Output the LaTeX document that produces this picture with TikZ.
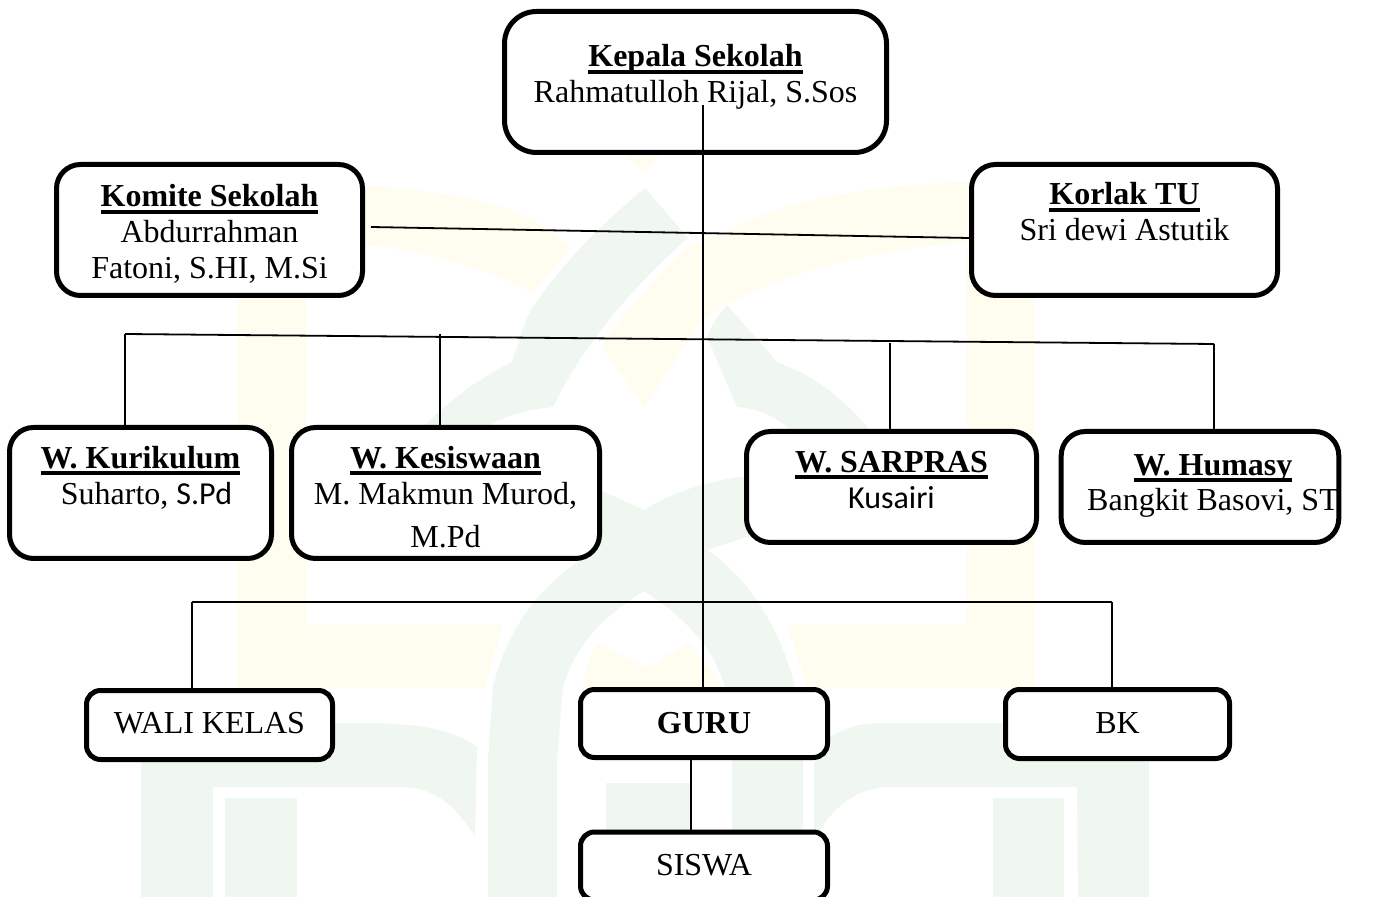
\documentclass[tikz,border=0pt]{standalone}
\usepackage{fontspec}
\setmainfont{Liberation Serif}
\newfontfamily\calfont{Carlito}
\newsavebox\ulbox
\newcommand\ulbf[1]{\sbox\ulbox{\textbf{#1}}\rlap{\rule[-3.3pt]{\wd\ulbox}{2pt}}\usebox\ulbox}
\newcommand\tst[1]{\rule{0pt}{#1pt}}
\newcommand\bst[1]{\rule[-#1pt]{0pt}{#1pt}}
\definecolor{wmgreen}{HTML}{EFF7F0}
\definecolor{wmyellow}{HTML}{FFFDF0}
\tikzset{
  box/.style={draw=black,fill=white,line width=2.5pt,outer sep=0pt,inner sep=0pt,
    rounded corners=12pt,align=center,font=\fontsize{16}{18}\selectfont},
  smallbox/.style={box,rounded corners=7pt},
  link/.style={draw=black,line width=0.9pt},
  wmg/.style={fill=wmgreen,draw=none},
  wmy/.style={fill=wmyellow,draw=none}
}
\begin{document}
\begin{tikzpicture}[x=0.5pt,y=-0.5pt]
\useasboundingbox (0,0) rectangle (1376,897);
% watermark
\fill[wmy] (237,298) -- (237,185) -- (363,185) .. controls (430,190) and (500,200) .. (540,223) -- (572,247) -- (533,293) .. controls (480,265) and (420,250) .. (363,245) -- (306,245) -- (306,625) -- (503,625) -- (484,688) -- (237,688) -- cycle;
\fill[wmy] (1035,298) -- (1035,185) -- (967,182) .. controls (900,183) and (790,195) .. (723,233) -- (687,247) .. controls (650,285) and (620,315) .. (602,347) -- (645,408) .. controls (665,375) and (685,345) .. (703,320) .. controls (760,280) and (860,250) .. (967,243) -- (967,625) -- (787,625) -- (808,688) -- (1035,688) -- cycle;
\fill[wmy] (625,155) -- (660,155) -- (645,173) -- cycle;
\fill[wmy] (583,688) .. controls (585,670) and (590,655) .. (598,643) -- (646,668) -- (688,643) .. controls (705,660) and (715,675) .. (723,688) -- cycle;
\fill[wmg] (645,188) -- (688,238) .. controls (640,280) and (585,340) .. (553,407) .. controls (525,410) and (500,417) .. (483,430) -- (420,430) .. controls (455,395) and (485,375) .. (512,362) -- (527,317) .. controls (555,270) and (600,225) .. (645,188) -- cycle;
\fill[wmg] (727,305) -- (778,363) .. controls (815,375) and (845,400) .. (870,430) -- (790,430) .. controls (775,415) and (755,408) .. (737,407) -- (707,337) .. controls (712,325) and (718,315) .. (727,305) -- cycle;
\fill[wmg] (644,510) .. controls (670,493) and (705,482) .. (740,477) -- (790,477) -- (790,540) -- (747,537) -- (707,550) .. controls (745,575) and (780,625) .. (795,687) -- (803,720) -- (803,900) -- (732,900) -- (732,760) -- (725,687) .. controls (710,640) and (680,615) .. (644,591) .. controls (605,615) and (575,645) .. (563,687) -- (557,760) -- (557,900) -- (488,900) -- (488,760) -- (493,687) .. controls (505,635) and (535,590) .. (583,558) -- (600,490) -- cycle;
\fill[wmg] (606,783) rectangle (690,900);
\fill[wmg] (141,900) -- (141,723) -- (360,723) .. controls (420,723) and (455,730) .. (477,747) -- (475,837) .. controls (455,805) and (435,787) .. (400,787) -- (213,787) -- (213,900) -- cycle;
\fill[wmg] (225,798) rectangle (297,900);
\fill[wmg] (1149,900) -- (1149,723) -- (880,723) .. controls (860,723) and (845,728) .. (830,737) -- (814,760) -- (814,830) -- (820,830) .. controls (835,805) and (860,787) .. (890,787) -- (1077,787) -- (1078,900) -- cycle;
\fill[wmg] (993,798) rectangle (1064,900);
% boxes
\node[box,rounded corners=16pt,minimum width=191pt,minimum height=70.5pt] (kepala) at (695.5,82)
  {\tst{12}\ulbf{Kepala Sekolah}\\Rahmatulloh Rijal, S.Sos\bst{9}};
\node[box,minimum width=153pt,minimum height=65.5pt] (komite) at (209.5,230)
  {\tst{19}\ulbf{Komite Sekolah}\\Abdurrahman\\Fatoni, S.HI, M.Si\bst{6}};
\node[box,minimum width=153pt,minimum height=65.5pt] (korlak) at (1124.5,230)
  {\tst{12}\ulbf{Korlak TU}\\Sri dewi Astutik\bst{19}};
\node[box,minimum width=131pt,minimum height=65.5pt] (kur) at (140.5,493)
  {\tst{12}\ulbf{W. Kurikulum}\\\hspace*{6pt}Suharto, {\calfont S.Pd}\bst{18.5}};
\node[box,minimum width=154pt,minimum height=65.5pt] (kes) at (445.5,493)
  {\tst{20}\ulbf{W. Kesiswaan}\\M. Makmun Murod,\\[3.5pt]M.Pd\bst{5}};
\node[box,minimum width=145pt,minimum height=55.5pt] (sar) at (891.5,487)
  {\tst{12}\ulbf{W. SARPRAS}\\{\calfont Kusairi}\bst{8.5}};
\node[box,minimum width=138.5pt,minimum height=55.5pt] (hum) at (1200,487)
  {\tst{12}\hspace*{13pt}\ulbf{W. Humasy}\\[-.5pt]\hspace*{13pt}Bangkit Basovi, ST\bst{6}};
\node[smallbox,minimum width=123pt,minimum height=34.5pt] (wali) at (209.5,725)
  {\tst{12}WALI KELAS\bst{3.5}};
\node[smallbox,minimum width=123.5pt,minimum height=34pt] (guru) at (704,723.5)
  {\tst{12}\textbf{GURU}\bst{2.5}};
\node[smallbox,minimum width=112pt,minimum height=34.5pt] (bk) at (1117.5,724)
  {\tst{12}BK\bst{3}};
\node[smallbox,minimum width=123.5pt,minimum height=34pt] (siswa) at (704,866)
  {\tst{12}SISWA\bst{3}};
% free ends
\coordinate (spine) at (703,105);
\coordinate (komEnd) at (371,227);
\coordinate (korEnd) at (969,238);
\coordinate (busAL) at (125,334);
\coordinate (busAR) at (1214,344);
\coordinate (kesTop) at (440,334);
\coordinate (sarTop) at (890,343);
\coordinate (busBL) at (192,602);
\coordinate (busBR) at (1112,602);
\coordinate (sisTop) at (691,760);
% connectors
\draw[link] (spine) -- (spine |- guru.north);
\draw[link] (komEnd) -- (korEnd);
\draw[link] (busAL) -- (busAR);
\draw[link] (busAL) -- (busAL |- kur.north);
\draw[link] (kesTop) -- (kesTop |- kes.north);
\draw[link] (sarTop) -- (sarTop |- sar.north);
\draw[link] (busAR) -- (busAR |- hum.north);
\draw[link] (busBL) -- (busBR);
\draw[link] (busBL) -- (busBL |- wali.north);
\draw[link] (busBR) -- (busBR |- bk.north);
\draw[link] (sisTop) -- (sisTop |- siswa.north);
\end{tikzpicture}
\end{document}
